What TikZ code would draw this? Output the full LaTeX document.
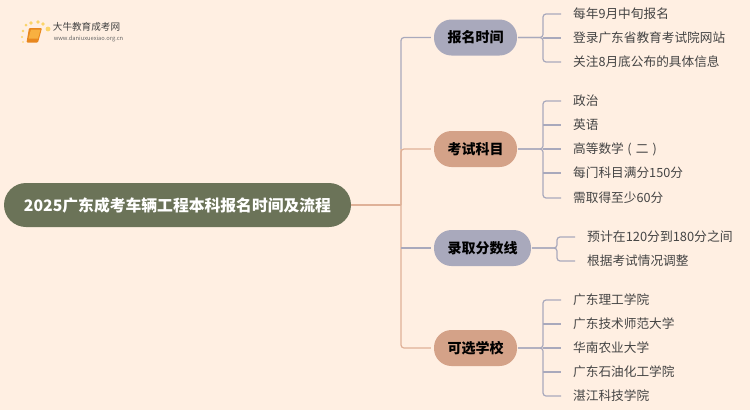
\documentclass[tikz,border=0pt]{standalone}
\usepackage{fontspec}
\setmainfont{Noto Sans CJK SC}
\usetikzlibrary{calc}
\definecolor{bgc}{HTML}{FFEFE2}
\definecolor{rootc}{HTML}{6B7358}
\definecolor{bluec}{HTML}{A9A9BC}
\definecolor{orgc}{HTML}{D4A288}
\definecolor{orgl}{HTML}{DFB198}
\definecolor{leaft}{HTML}{444444}
\definecolor{dotc}{HTML}{FBD468}
\definecolor{bookd}{HTML}{E8871E}
\definecolor{bookl}{HTML}{F8B040}
\tikzset{
  x=1pt,y=-1pt,
  rootbox/.style={rounded corners=22pt,fill=rootc,text=white,minimum width=347pt,minimum height=44pt,inner sep=0pt,font=\fontsize{15.8}{18}\selectfont\bfseries},
  topicbox/.style={rounded corners=17.5pt,minimum height=36pt,inner sep=0pt,text=black,font=\fontsize{14}{17}\selectfont\bfseries},
  bluebox/.style={topicbox,fill=bluec},
  orgbox/.style={topicbox,fill=orgc},
  leafbox/.style={anchor=west,inner sep=0pt,text=leaft,font=\fontsize{12.67}{15}\selectfont},
  bl/.style={draw=bluec,line width=1.2pt,rounded corners=3pt},
  ol/.style={draw=orgl,line width=1.2pt,rounded corners=3pt},
}
\begin{document}
\begin{tikzpicture}
\fill[bgc] (0,0) rectangle (750,410);
\useasboundingbox (0,0) rectangle (750,410);
% logo
\foreach \a/\b/\r in {23/42/0.9,22/37/1.1,23/31/1.3,26/25/1.5,31/23/1.8,38/22/1.8,43/24/1.8,48/29/2.4}{\fill[dotc] (\a,\b) circle (\r);}
\fill[bookd,rounded corners=1pt] (29,28) -- (42,28) -- (38,42.500) -- (26.500,42.500) -- cycle;
\fill[bookl] (31,29.500) -- (40.500,29.500) -- (38,38.500) -- (28.500,38.500) -- cycle;
\node[inner sep=0pt,text=black!75,font=\fontsize{9.6}{11}\selectfont] (logot) at (86.500,27) {大牛教育成考网};
\node[inner sep=0pt,text=black!60,font=\fontsize{5.75}{7}\selectfont] (logou) at (88.500,39) {www.daniuxuexiao.org.cn};
% nodes
\node[rootbox] (root) at (177.500,205) {2025广东成考车辆工程本科报名时间及流程};
\node[bluebox,minimum width=83pt] (t1) at (475.500,37.500) {报名时间};
\node[orgbox,minimum width=83pt] (t2) at (475.500,149) {考试科目};
\node[bluebox,minimum width=97pt] (t3) at (482.500,248) {录取分数线};
\node[orgbox,minimum width=83pt] (t4) at (475.500,348) {可选学校};
\foreach \n/\y/\t in {a1/14/每年9月中旬报名,a2/38/登录广东省教育考试院网站,a3/62/关注8月底公布的具体信息,
 b1/101/政治,b2/125/英语,b3/149/{高等数学\hspace{3.5pt}(\hspace{4.3pt}二\hspace{4pt})},b4/173/每门科目满分150分,b5/198/需取得至少60分,
 d1/300/广东理工学院,d2/324/广东技术师范大学,d3/348/华南农业大学,d4/372/广东石油化工学院,d5/396/湛江科技学院}{
  \node[leafbox] (\n) at (573,\y) {\t};
}
\node[leafbox,font=\fontsize{12.85}{15}\selectfont] (c1) at (587,237) {预计在120分到180分之间};
\node[leafbox] (c2) at (587,261) {根据考试情况调整};
% main branches
\coordinate (tk) at (401,205);
\draw[ol] (root.east) -- (tk);
\draw[bl] (tk |- t2.west) -- (tk |- t1.west) -- ([xshift=-3pt]t1.west);
\draw[ol] (tk) -- (tk |- t2.west) -- ([xshift=-3pt]t2.west);
\draw[ol] (tk |- t2.west) -- (tk |- t4.west) -- ([xshift=-3pt]t4.west);
\draw[bl] (tk |- t3.west) -- ([xshift=-3pt]t3.west);
% leaf branches
\foreach \tp/\tx/\lv in {t1/543/a1,t1/543/a3,t2/543/b1,t2/543/b5,t4/543/d1,t4/543/d5,t3/557/c1,t3/557/c2}{
  \draw[bl] ([xshift=1pt]\tp.east) -- (\tx,0 |- \tp.east) -- (\tx,0 |- \lv.west) -- ([xshift=-12pt]\lv.west);
}
\foreach \tp/\lv in {t1/a2,t2/b2,t2/b3,t2/b4,t4/d2,t4/d3,t4/d4}{
  \draw[bl,rounded corners=0pt] (543,0 |- \lv.west) -- ([xshift=-12pt]\lv.west);
}
\end{tikzpicture}
\end{document}
